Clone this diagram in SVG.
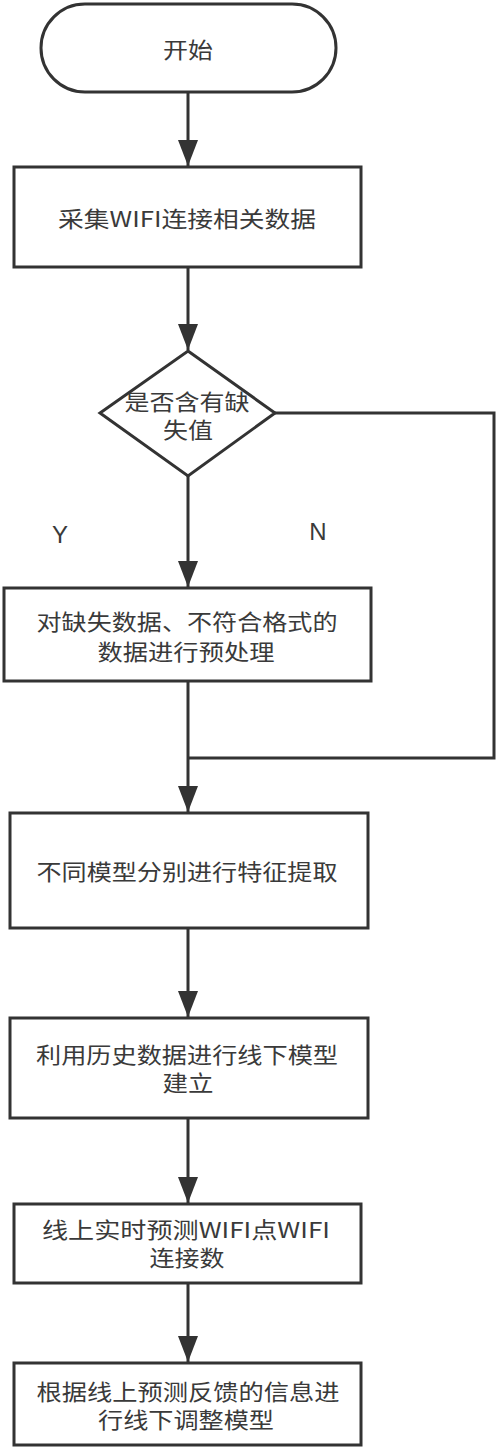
<svg xmlns="http://www.w3.org/2000/svg" width="500" height="1450" viewBox="0 0 500 1450">
<defs>
<style>
.shape{fill:#ffffff;stroke:#333333;stroke-width:3}
.t{font-family:"Noto Sans CJK SC","Liberation Sans",sans-serif;font-size:22px;fill:#3a3a3a;text-anchor:middle}
.lbl{font-family:"Liberation Sans","Noto Sans",sans-serif;font-size:24px;fill:#3a3a3a;text-anchor:middle}
.edge{fill:none;stroke:#333333;stroke-width:3}
</style>
<marker id="arr" viewBox="0 0 20 26" refX="10" refY="26" markerWidth="20" markerHeight="26" markerUnits="userSpaceOnUse" orient="0">
<path d="M0,0 L20,0 L10,26 Z" fill="#333333"/>
</marker>
</defs>
<rect width="500" height="1450" fill="#ffffff"/>
<g id="connectors">
<path class="edge" d="M188,92 V166" marker-end="url(#arr)"/>
<path class="edge" d="M188,267 V350" marker-end="url(#arr)"/>
<path class="edge" d="M188,476 V587" marker-end="url(#arr)"/>
<path class="edge" d="M275,413 H494 V758 H188"/>
<path class="edge" d="M188,681 V812" marker-end="url(#arr)"/>
<path class="edge" d="M188,928 V1017" marker-end="url(#arr)"/>
<path class="edge" d="M188,1118 V1203" marker-end="url(#arr)"/>
<path class="edge" d="M188,1283 V1362" marker-end="url(#arr)"/>
<text class="lbl" x="60" y="543">Y</text>
<text class="lbl" x="318" y="540">N</text>
</g>
<g id="start">
<rect class="shape" x="41" y="4" width="295" height="88" rx="44" ry="44"/>
<text class="t" x="188" y="58" textLength="50" lengthAdjust="spacingAndGlyphs">开始</text>
</g>
<g id="collect">
<rect class="shape" x="14" y="167" width="347" height="100"/>
<text class="t" x="187" y="227" textLength="258" lengthAdjust="spacingAndGlyphs">采集WIFI连接相关数据</text>
</g>
<g id="decision">
<polygon class="shape" points="188,351 275,413 188,476 100,413"/>
<text class="t" x="187" y="410" textLength="125" lengthAdjust="spacingAndGlyphs">是否含有缺</text>
<text class="t" x="188" y="438" textLength="50" lengthAdjust="spacingAndGlyphs">失值</text>
</g>
<g id="preprocess">
<rect class="shape" x="4" y="588" width="367" height="93"/>
<text class="t" x="187" y="630" textLength="301" lengthAdjust="spacingAndGlyphs">对缺失数据、不符合格式的</text>
<text class="t" x="186" y="660" textLength="177" lengthAdjust="spacingAndGlyphs">数据进行预处理</text>
</g>
<g id="features">
<rect class="shape" x="10" y="813" width="358" height="115"/>
<text class="t" x="187" y="880" textLength="301" lengthAdjust="spacingAndGlyphs">不同模型分别进行特征提取</text>
</g>
<g id="offline">
<rect class="shape" x="10" y="1018" width="358" height="100"/>
<text class="t" x="187" y="1063" textLength="302" lengthAdjust="spacingAndGlyphs">利用历史数据进行线下模型</text>
<text class="t" x="188" y="1091" textLength="51" lengthAdjust="spacingAndGlyphs">建立</text>
</g>
<g id="online">
<rect class="shape" x="14" y="1204" width="347" height="79"/>
<text class="t" x="186" y="1238" textLength="288" lengthAdjust="spacingAndGlyphs">线上实时预测WIFI点WIFI</text>
<text class="t" x="187" y="1266" textLength="75" lengthAdjust="spacingAndGlyphs">连接数</text>
</g>
<g id="adjust">
<rect class="shape" x="14" y="1363" width="347" height="82"/>
<text class="t" x="188" y="1400" textLength="303" lengthAdjust="spacingAndGlyphs">根据线上预测反馈的信息进</text>
<text class="t" x="186" y="1428" textLength="176" lengthAdjust="spacingAndGlyphs">行线下调整模型</text>
</g>
</svg>
